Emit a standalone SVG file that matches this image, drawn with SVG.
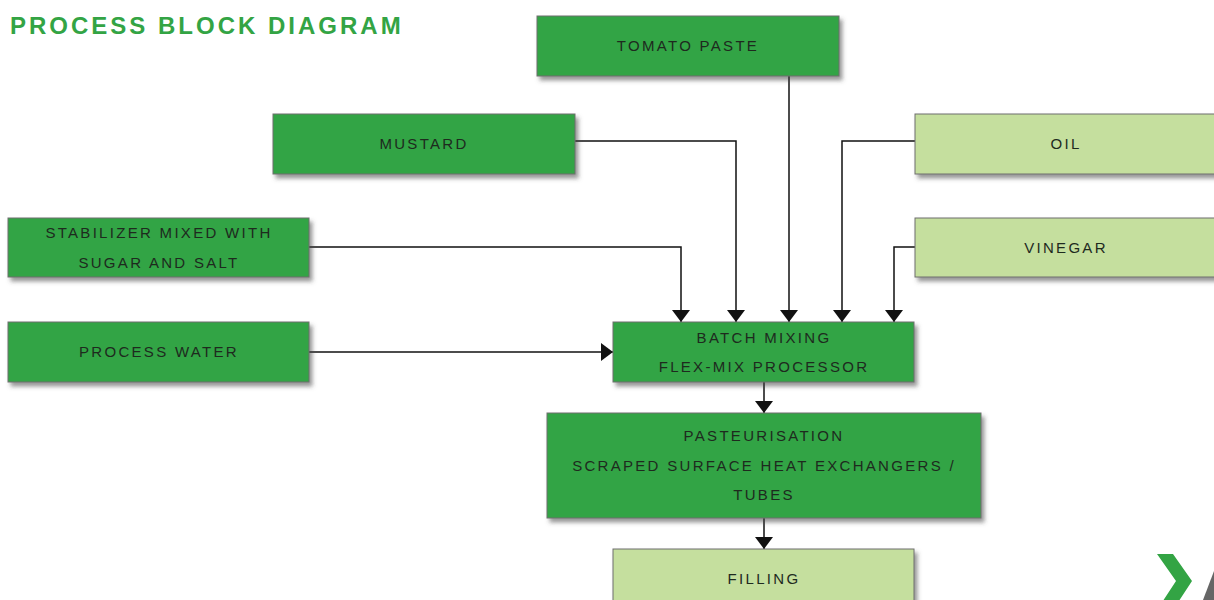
<svg xmlns="http://www.w3.org/2000/svg" width="1214" height="600" viewBox="0 0 1214 600">
<style>
.box{stroke:#6e6e6e;stroke-width:1;filter:url(#sh)}
.dk{fill:#33a444}
.lt{fill:#c5df9e}
.lbl{font-family:"Liberation Sans",Arial,sans-serif;font-size:15px;letter-spacing:2.3px;fill:#1e2a1e;text-anchor:middle}
.con{fill:none;stroke:#111;stroke-width:1.5}
</style>
<defs>
<filter id="sh" x="-10%" y="-20%" width="130%" height="160%">
<feDropShadow dx="3" dy="4" stdDeviation="2" flood-color="#444" flood-opacity="0.55"/>
</filter>
<marker id="ar" viewBox="0 -9 12 18" refX="12" refY="0" markerWidth="12" markerHeight="18" markerUnits="userSpaceOnUse" orient="auto">
<path d="M0,-9 L12,0 L0,9 Z" fill="#111"/>
</marker>
</defs>
<rect width="1214" height="600" fill="#fff"/>
<text x="10" y="34" font-family="'Liberation Sans',Arial,sans-serif" font-size="24" font-weight="bold" letter-spacing="3" fill="#33a444">PROCESS BLOCK DIAGRAM</text>

<g id="connectors">
<path class="con" d="M789,76 V322" marker-end="url(#ar)"/>
<path class="con" d="M575,141 H736 V322" marker-end="url(#ar)"/>
<path class="con" d="M309,247 H681 V322" marker-end="url(#ar)"/>
<path class="con" d="M915,141 H842 V322" marker-end="url(#ar)"/>
<path class="con" d="M915,247 H894 V322" marker-end="url(#ar)"/>
<path class="con" d="M309,352 H613" stroke-width="2" marker-end="url(#ar)"/>
<path class="con" d="M764,382 V413" marker-end="url(#ar)"/>
<path class="con" d="M764,518 V549" marker-end="url(#ar)"/>
</g>

<g id="tomato"><rect class="box dk" x="537" y="16" width="302" height="60"/><text class="lbl" x="688" y="51">TOMATO PASTE</text></g>
<g id="mustard"><rect class="box dk" x="273" y="114" width="302" height="60"/><text class="lbl" x="424" y="149">MUSTARD</text></g>
<g id="stabilizer"><rect class="box dk" x="8" y="218" width="301" height="59"/><text class="lbl" x="159" y="238">STABILIZER MIXED WITH</text><text class="lbl" x="159" y="268">SUGAR AND SALT</text></g>
<g id="water"><rect class="box dk" x="8" y="322" width="301" height="60"/><text class="lbl" x="159" y="357">PROCESS WATER</text></g>
<g id="oil"><rect class="box lt" x="915" y="114" width="310" height="60"/><text class="lbl" x="1066" y="149">OIL</text></g>
<g id="vinegar"><rect class="box lt" x="915" y="218" width="310" height="59"/><text class="lbl" x="1066" y="253">VINEGAR</text></g>
<g id="batch"><rect class="box dk" x="613" y="322" width="301" height="60"/><text class="lbl" x="764" y="343">BATCH MIXING</text><text class="lbl" x="764" y="372">FLEX-MIX PROCESSOR</text></g>
<g id="past"><rect class="box dk" x="547" y="413" width="434" height="105"/><text class="lbl" x="764" y="441">PASTEURISATION</text><text class="lbl" x="764" y="471">SCRAPED SURFACE HEAT EXCHANGERS /</text><text class="lbl" x="764" y="500">TUBES</text></g>
<g id="filling"><rect class="box lt" x="613" y="549" width="301" height="70"/><text class="lbl" x="764" y="584">FILLING</text></g>

<polygon points="1157,554 1173,554 1192,581 1173,610 1157,610 1176,581" fill="#33a444"/>
<polygon points="1203,600 1214,571 1214,600" fill="#666"/>
</svg>
